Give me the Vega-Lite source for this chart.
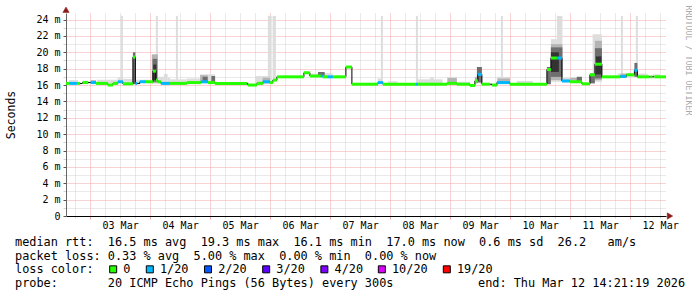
{
"$schema": "https://vega.github.io/schema/vega-lite/v6.json",
"padding": {"left": 5, "top": 5, "right": 0, "bottom": 0},
"background": "#ffffff",
"config": {"view": {"stroke": null}, "font": "DejaVu Sans Mono",
  "axis": {"labelFont": "DejaVu Sans Mono", "titleFont": "DejaVu Sans Mono", "labelFontSize": 10, "labelColor": "#000000", "titleColor": "#000000", "titleFontWeight": "normal", "labelOverlap": false}},
"datasets": {
"med": [
{"a":"2026-03-02T14:21","b":"2026-03-02T15:55","m":16.2,"l":"0"},
{"a":"2026-03-02T15:55","b":"2026-03-02T18:43","m":16.2,"l":"1/20"},
{"a":"2026-03-02T18:43","b":"2026-03-02T19:55","m":16.2,"l":"0"},
{"a":"2026-03-02T21:00","b":"2026-03-02T23:15","m":16.3,"l":"0"},
{"a":"2026-03-03T00:12","b":"2026-03-03T02:20","m":16.3,"l":"1/20"},
{"a":"2026-03-03T02:20","b":"2026-03-03T07:07","m":16.2,"l":"0"},
{"a":"2026-03-03T07:07","b":"2026-03-03T09:07","m":16.0,"l":"0"},
{"a":"2026-03-03T09:07","b":"2026-03-03T11:07","m":16.2,"l":"0"},
{"a":"2026-03-03T11:07","b":"2026-03-03T13:07","m":16.4,"l":"1/20"},
{"a":"2026-03-03T13:07","b":"2026-03-03T17:07","m":16.15,"l":"0"},
{"a":"2026-03-03T17:07","b":"2026-03-03T18:07","m":19.4,"l":"0"},
{"a":"2026-03-03T18:07","b":"2026-03-03T18:50","m":16.2,"l":"1/20"},
{"a":"2026-03-03T19:55","b":"2026-03-03T22:20","m":16.4,"l":"1/20"},
{"a":"2026-03-03T22:20","b":"2026-03-04T01:07","m":16.4,"l":"0"},
{"a":"2026-03-04T01:07","b":"2026-03-04T02:19","m":17.7,"l":"0"},
{"a":"2026-03-04T02:19","b":"2026-03-04T03:07","m":16.6,"l":"0"},
{"a":"2026-03-04T03:07","b":"2026-03-04T04:19","m":16.4,"l":"0"},
{"a":"2026-03-04T04:19","b":"2026-03-04T07:55","m":16.2,"l":"1/20"},
{"a":"2026-03-04T07:55","b":"2026-03-04T14:43","m":16.2,"l":"0"},
{"a":"2026-03-04T14:43","b":"2026-03-04T20:19","m":16.3,"l":"0"},
{"a":"2026-03-04T20:19","b":"2026-03-04T23:07","m":16.4,"l":"1/20"},
{"a":"2026-03-04T23:07","b":"2026-03-05T01:55","m":16.3,"l":"0"},
{"a":"2026-03-05T01:55","b":"2026-03-05T14:43","m":16.2,"l":"0"},
{"a":"2026-03-05T15:07","b":"2026-03-05T18:43","m":16.0,"l":"0"},
{"a":"2026-03-05T18:43","b":"2026-03-05T21:07","m":16.2,"l":"0"},
{"a":"2026-03-05T21:07","b":"2026-03-05T23:55","m":16.4,"l":"1/20"},
{"a":"2026-03-05T23:55","b":"2026-03-06T01:07","m":16.3,"l":"0"},
{"a":"2026-03-06T01:07","b":"2026-03-06T02:43","m":16.6,"l":"0"},
{"a":"2026-03-06T02:43","b":"2026-03-06T13:31","m":17.0,"l":"0"},
{"a":"2026-03-06T13:31","b":"2026-03-06T15:55","m":17.5,"l":"0"},
{"a":"2026-03-06T15:55","b":"2026-03-06T20:19","m":17.1,"l":"0"},
{"a":"2026-03-06T20:19","b":"2026-03-06T21:07","m":17.1,"l":"1/20"},
{"a":"2026-03-06T21:07","b":"2026-03-06T23:07","m":17.0,"l":"0"},
{"a":"2026-03-06T23:07","b":"2026-03-07T01:07","m":17.0,"l":"1/20"},
{"a":"2026-03-07T01:07","b":"2026-03-07T06:19","m":17.0,"l":"0"},
{"a":"2026-03-07T06:19","b":"2026-03-07T08:43","m":18.2,"l":"0"},
{"a":"2026-03-07T08:43","b":"2026-03-07T19:07","m":16.1,"l":"0"},
{"a":"2026-03-07T19:07","b":"2026-03-07T21:07","m":16.3,"l":"1/20"},
{"a":"2026-03-07T21:07","b":"2026-03-08T10:19","m":16.1,"l":"0"},
{"a":"2026-03-08T10:19","b":"2026-03-08T11:07","m":16.1,"l":"1/20"},
{"a":"2026-03-08T11:07","b":"2026-03-08T22:43","m":16.1,"l":"0"},
{"a":"2026-03-08T22:43","b":"2026-03-09T02:43","m":16.2,"l":"0"},
{"a":"2026-03-09T02:43","b":"2026-03-09T07:55","m":16.1,"l":"0"},
{"a":"2026-03-09T07:55","b":"2026-03-09T09:55","m":15.95,"l":"0"},
{"a":"2026-03-09T09:55","b":"2026-03-09T11:07","m":16.5,"l":"0"},
{"a":"2026-03-09T11:07","b":"2026-03-09T12:43","m":17.3,"l":"1/20"},
{"a":"2026-03-09T12:43","b":"2026-03-09T15:55","m":16.1,"l":"0"},
{"a":"2026-03-09T16:43","b":"2026-03-09T18:43","m":16.0,"l":"0"},
{"a":"2026-03-09T18:43","b":"2026-03-09T23:55","m":16.3,"l":"1/20"},
{"a":"2026-03-09T23:55","b":"2026-03-10T14:43","m":16.1,"l":"0"},
{"a":"2026-03-10T14:43","b":"2026-03-10T16:19","m":17.9,"l":"0"},
{"a":"2026-03-10T16:19","b":"2026-03-10T18:43","m":19.3,"l":"0"},
{"a":"2026-03-10T18:43","b":"2026-03-10T20:43","m":19.3,"l":"1/20"},
{"a":"2026-03-10T20:43","b":"2026-03-10T23:55","m":16.5,"l":"1/20"},
{"a":"2026-03-10T23:55","b":"2026-03-11T04:43","m":16.4,"l":"0"},
{"a":"2026-03-11T04:43","b":"2026-03-11T07:55","m":16.15,"l":"0"},
{"a":"2026-03-11T07:55","b":"2026-03-11T09:55","m":17.25,"l":"0"},
{"a":"2026-03-11T09:55","b":"2026-03-11T12:43","m":18.55,"l":"0"},
{"a":"2026-03-11T12:43","b":"2026-03-11T20:07","m":17.0,"l":"0"},
{"a":"2026-03-11T20:07","b":"2026-03-11T22:31","m":17.05,"l":"1/20"},
{"a":"2026-03-11T22:31","b":"2026-03-12T01:43","m":17.25,"l":"0"},
{"a":"2026-03-12T01:43","b":"2026-03-12T02:55","m":17.8,"l":"1/20"},
{"a":"2026-03-12T02:55","b":"2026-03-12T07:43","m":17.0,"l":"0"},
{"a":"2026-03-12T08:07","b":"2026-03-12T08:55","m":17.0,"l":"0"},
{"a":"2026-03-12T09:43","b":"2026-03-12T14:21","m":17.0,"l":"0"}
],
"smk": [
{"a":"2026-03-02T15:30","b":"2026-03-02T19:10","lo":16.2,"hi":16.6,"s":1},
{"a":"2026-03-02T21:00","b":"2026-03-02T23:15","lo":16.2,"hi":16.55,"s":1},
{"a":"2026-03-03T02:40","b":"2026-03-03T11:00","lo":16.2,"hi":16.65,"s":1},
{"a":"2026-03-03T11:00","b":"2026-03-03T13:10","lo":16.3,"hi":16.9,"s":1},
{"a":"2026-03-03T13:10","b":"2026-03-03T17:00","lo":16.15,"hi":16.75,"s":1},
{"a":"2026-03-03T18:00","b":"2026-03-04T00:00","lo":16.3,"hi":16.65,"s":1},
{"a":"2026-03-04T03:00","b":"2026-03-04T05:30","lo":16.2,"hi":17.0,"s":1},
{"a":"2026-03-04T05:30","b":"2026-03-04T07:00","lo":16.2,"hi":17.35,"s":1},
{"a":"2026-03-04T07:00","b":"2026-03-04T08:00","lo":16.2,"hi":16.9,"s":1},
{"a":"2026-03-04T08:00","b":"2026-03-04T14:40","lo":16.2,"hi":16.7,"s":1},
{"a":"2026-03-04T14:40","b":"2026-03-04T20:00","lo":16.2,"hi":16.8,"s":1},
{"a":"2026-03-04T20:00","b":"2026-03-05T02:00","lo":16.2,"hi":17.3,"s":1},
{"a":"2026-03-05T18:00","b":"2026-03-06T00:30","lo":16.2,"hi":17.1,"s":1},
{"a":"2026-03-06T16:00","b":"2026-03-06T20:00","lo":17.1,"hi":17.4,"s":1},
{"a":"2026-03-06T21:00","b":"2026-03-07T01:00","lo":17.0,"hi":17.45,"s":1},
{"a":"2026-03-07T19:00","b":"2026-03-07T21:00","lo":16.2,"hi":16.8,"s":1},
{"a":"2026-03-07T23:00","b":"2026-03-08T03:00","lo":16.1,"hi":16.45,"s":1},
{"a":"2026-03-08T10:40","b":"2026-03-08T21:00","lo":16.1,"hi":16.7,"s":1},
{"a":"2026-03-08T16:00","b":"2026-03-08T17:30","lo":16.1,"hi":16.95,"s":1},
{"a":"2026-03-08T22:45","b":"2026-03-09T02:45","lo":16.2,"hi":17.0,"s":1},
{"a":"2026-03-09T03:00","b":"2026-03-09T08:00","lo":16.1,"hi":16.4,"s":1},
{"a":"2026-03-09T18:40","b":"2026-03-10T00:00","lo":16.2,"hi":17.0,"s":1},
{"a":"2026-03-10T02:40","b":"2026-03-10T09:00","lo":16.1,"hi":16.5,"s":1},
{"a":"2026-03-10T16:19","b":"2026-03-10T18:43","lo":16.4,"hi":21.6,"s":1},
{"a":"2026-03-10T18:43","b":"2026-03-10T20:55","lo":16.4,"hi":24.45,"s":1},
{"a":"2026-03-10T21:00","b":"2026-03-10T23:55","lo":16.3,"hi":16.9,"s":1},
{"a":"2026-03-11T09:00","b":"2026-03-11T12:43","lo":16.4,"hi":22.2,"s":1},
{"a":"2026-03-11T19:00","b":"2026-03-12T07:00","lo":17.0,"hi":17.4,"s":1},
{"a":"2026-03-12T09:00","b":"2026-03-12T12:00","lo":17.0,"hi":17.3,"s":1},
{"a":"2026-03-03T12:19","b":"2026-03-03T13:07","lo":16.2,"hi":24.45,"s":1},
{"a":"2026-03-04T02:19","b":"2026-03-04T03:07","lo":16.4,"hi":24.45,"s":1},
{"a":"2026-03-04T10:19","b":"2026-03-04T11:07","lo":16.2,"hi":24.45,"s":1},
{"a":"2026-03-05T23:07","b":"2026-03-06T00:36","lo":16.3,"hi":24.45,"s":1},
{"a":"2026-03-06T01:00","b":"2026-03-06T02:19","lo":16.5,"hi":24.45,"s":1},
{"a":"2026-03-07T20:19","b":"2026-03-07T21:07","lo":16.2,"hi":24.45,"s":1},
{"a":"2026-03-08T10:19","b":"2026-03-08T11:07","lo":16.1,"hi":24.45,"s":1},
{"a":"2026-03-09T20:19","b":"2026-03-09T21:07","lo":16.3,"hi":24.45,"s":1},
{"a":"2026-03-11T20:19","b":"2026-03-11T21:07","lo":17.0,"hi":24.45,"s":1},
{"a":"2026-03-12T02:19","b":"2026-03-12T03:07","lo":17.0,"hi":24.45,"s":1},
{"a":"2026-03-03T00:12","b":"2026-03-03T02:20","lo":16.2,"hi":16.6,"s":2},
{"a":"2026-03-04T00:40","b":"2026-03-04T03:07","lo":16.2,"hi":19.75,"s":2},
{"a":"2026-03-04T20:00","b":"2026-03-04T23:07","lo":16.3,"hi":17.2,"s":2},
{"a":"2026-03-05T21:00","b":"2026-03-06T00:00","lo":16.2,"hi":16.9,"s":2},
{"a":"2026-03-08T23:00","b":"2026-03-09T02:40","lo":16.2,"hi":16.85,"s":2},
{"a":"2026-03-09T09:55","b":"2026-03-09T11:07","lo":16.2,"hi":17.0,"s":2},
{"a":"2026-03-09T19:00","b":"2026-03-09T23:55","lo":16.2,"hi":16.8,"s":2},
{"a":"2026-03-10T16:19","b":"2026-03-10T20:55","lo":16.6,"hi":21.0,"s":2},
{"a":"2026-03-11T00:00","b":"2026-03-11T04:43","lo":16.3,"hi":16.9,"s":2},
{"a":"2026-03-11T09:55","b":"2026-03-11T12:43","lo":16.6,"hi":21.4,"s":2},
{"a":"2026-03-11T20:07","b":"2026-03-11T22:31","lo":16.9,"hi":17.4,"s":2},
{"a":"2026-03-03T17:07","b":"2026-03-03T18:07","lo":16.1,"hi":20.0,"s":3},
{"a":"2026-03-04T01:00","b":"2026-03-04T02:50","lo":16.4,"hi":19.2,"s":3},
{"a":"2026-03-04T21:00","b":"2026-03-04T23:00","lo":16.4,"hi":17.0,"s":3},
{"a":"2026-03-05T00:30","b":"2026-03-05T02:00","lo":16.2,"hi":17.1,"s":3},
{"a":"2026-03-06T19:10","b":"2026-03-06T21:50","lo":17.0,"hi":17.6,"s":3},
{"a":"2026-03-09T10:43","b":"2026-03-09T12:43","lo":16.3,"hi":18.2,"s":3},
{"a":"2026-03-10T14:43","b":"2026-03-10T16:19","lo":16.1,"hi":18.2,"s":3},
{"a":"2026-03-10T16:19","b":"2026-03-10T20:55","lo":17.0,"hi":20.6,"s":3},
{"a":"2026-03-11T02:40","b":"2026-03-11T04:43","lo":16.3,"hi":17.0,"s":3},
{"a":"2026-03-11T07:55","b":"2026-03-11T09:55","lo":16.2,"hi":17.4,"s":3},
{"a":"2026-03-11T09:55","b":"2026-03-11T12:43","lo":16.8,"hi":20.5,"s":3},
{"a":"2026-03-12T01:43","b":"2026-03-12T02:55","lo":17.0,"hi":18.7,"s":3},
{"a":"2026-03-04T01:15","b":"2026-03-04T02:30","lo":16.6,"hi":18.5,"s":4},
{"a":"2026-03-10T16:19","b":"2026-03-10T19:30","lo":17.6,"hi":20.0,"s":4},
{"a":"2026-03-11T10:20","b":"2026-03-11T12:30","lo":17.3,"hi":19.5,"s":4}
],
"arw": [
{"t":"2026-03-02T14:21:19","v":25.2,"k":"up"},
{"t":"2026-03-12T15:57:00","v":0,"k":"right"}
],
"leg": [
{"r":0,"c":0,"t":"median\u00a0rtt:"},
{"r":0,"c":13,"t":"16.5\u00a0ms\u00a0avg"},
{"r":0,"c":26,"t":"19.3\u00a0ms\u00a0max"},
{"r":0,"c":39,"t":"16.1\u00a0ms\u00a0min"},
{"r":0,"c":52,"t":"17.0\u00a0ms\u00a0now"},
{"r":0,"c":65,"t":"0.6\u00a0ms\u00a0sd"},
{"r":0,"c":76,"t":"26.2"},
{"r":0,"c":83,"t":"am/s"},
{"r":1,"c":0,"t":"packet\u00a0loss:"},
{"r":1,"c":13,"t":"0.33\u00a0%\u00a0avg"},
{"r":1,"c":25,"t":"5.00\u00a0%\u00a0max"},
{"r":1,"c":37,"t":"0.00\u00a0%\u00a0min"},
{"r":1,"c":49,"t":"0.00\u00a0%\u00a0now"},
{"r":2,"c":0,"t":"loss\u00a0color:"},
{"r":2,"c":15.17,"t":"0"},
{"r":2,"c":20.3,"t":"1/20"},
{"r":2,"c":28.45,"t":"2/20"},
{"r":2,"c":36.6,"t":"3/20"},
{"r":2,"c":44.75,"t":"4/20"},
{"r":2,"c":52.8,"t":"10/20"},
{"r":2,"c":61.9,"t":"19/20"},
{"r":3,"c":0,"t":"probe:"},
{"r":3,"c":13,"t":"20\u00a0ICMP\u00a0Echo\u00a0Pings\u00a0(56\u00a0Bytes)\u00a0every\u00a0300s"},
{"r":3,"c":64.85,"t":"end:\u00a0Thu\u00a0Mar\u00a012\u00a014:21:19\u00a02026"}
],
"sq": [
{"r":2,"c":13.75,"l":"0"},
{"r":2,"c":18.88,"l":"1/20"},
{"r":2,"c":27.03,"l":"2/20"},
{"r":2,"c":35.18,"l":"3/20"},
{"r":2,"c":43.33,"l":"4/20"},
{"r":2,"c":51.38,"l":"10/20"},
{"r":2,"c":60.48,"l":"19/20"}
]
},
"vconcat": [
{
"width": 600, "height": 203,
"layer": [
{"data": {"name": "med"}, "mark": {"type": "point", "opacity": 0},
 "encoding": {
  "x": {"field": "a", "type": "temporal",
   "scale": {"domain": ["2026-03-02T14:21:19", "2026-03-12T14:21:19"], "nice": false},
   "axis": {"orient": "bottom", "values": ["2026-03-02T18:00","2026-03-03T06:00","2026-03-03T12:00","2026-03-03T18:00","2026-03-04T06:00","2026-03-04T12:00","2026-03-04T18:00","2026-03-05T06:00","2026-03-05T12:00","2026-03-05T18:00","2026-03-06T06:00","2026-03-06T12:00","2026-03-06T18:00","2026-03-07T06:00","2026-03-07T12:00","2026-03-07T18:00","2026-03-08T06:00","2026-03-08T12:00","2026-03-08T18:00","2026-03-09T06:00","2026-03-09T12:00","2026-03-09T18:00","2026-03-10T06:00","2026-03-10T12:00","2026-03-10T18:00","2026-03-11T06:00","2026-03-11T12:00","2026-03-11T18:00","2026-03-12T06:00","2026-03-12T12:00"],
    "grid": true, "gridColor": "#d2d2d2", "gridDash": [1,1], "labels": false, "ticks": true, "tickColor": "#d2d2d2", "tickSize": 2, "domain": false, "title": null}},
  "y": {"field": "m", "type": "quantitative", "scale": {"domain": [0, 24.8], "nice": false, "zero": false},
   "axis": {"orient": "left", "values": [1,3,5,7,9,11,13,15,17,19,21,23], "grid": true, "gridColor": "#d2d2d2", "gridDash": [1,1], "labels": false, "ticks": true, "tickColor": "#d2d2d2", "tickSize": 3, "domain": false, "title": null}}
 }},
{"data": {"name": "med"}, "mark": {"type": "point", "opacity": 0},
 "encoding": {
  "x": {"field": "a", "type": "temporal",
   "axis": {"orient": "bottom", "values": ["2026-03-03T00:00","2026-03-04T00:00","2026-03-05T00:00","2026-03-06T00:00","2026-03-07T00:00","2026-03-08T00:00","2026-03-09T00:00","2026-03-10T00:00","2026-03-11T00:00","2026-03-12T00:00"],
    "grid": true, "gridColor": "#f2a6a6", "gridDash": [1,1], "labels": false, "ticks": true, "tickColor": "#f2a6a6", "tickSize": 3, "domain": false, "title": null}},
  "y": {"field": "m", "type": "quantitative",
   "axis": {"orient": "left", "values": [2,4,6,8,10,12,14,16,18,20,22,24], "grid": true, "gridColor": "#f2a6a6", "gridDash": [1,1], "labels": false, "ticks": false, "domain": false, "title": null}}
 }},
{"data": {"name": "smk"}, "mark": {"type": "rect"},
 "encoding": {
  "x": {"field": "a", "type": "temporal", "axis": null},
  "x2": {"field": "b"},
  "y": {"field": "lo", "type": "quantitative",
   "axis": {"orient": "right", "labels": false, "ticks": false, "domain": false, "grid": false, "title": "RRDTOOL / TOBI OETIKER", "titleFontSize": 8.3, "titleColor": "#aaaaaa", "titleAngle": 90, "titleAlign": "left", "titleY": -8, "titlePadding": 17}},
  "y2": {"field": "hi"},
  "fill": {"field": "s", "type": "ordinal", "scale": {"domain": [1,2,3,4], "range": ["#dddddd", "#b4b4b4", "#6e6e6e", "#333333"]}, "legend": null}
 }},
{"data": {"name": "med"}, "mark": {"type": "line", "interpolate": "step-after", "color": "#000000", "strokeWidth": 1},
 "encoding": {
  "x": {"field": "a", "type": "temporal", "axis": null},
  "y": {"field": "m", "type": "quantitative", "axis": null}
 }},
{"data": {"name": "med"}, "mark": {"type": "rule", "strokeWidth": 3, "strokeCap": "butt"},
 "encoding": {
  "x": {"field": "a", "type": "temporal", "axis": null},
  "x2": {"field": "b"},
  "y": {"field": "m", "type": "quantitative", "axis": null},
  "stroke": {"field": "l", "type": "nominal", "scale": {"domain": ["0","1/20","2/20","3/20","4/20","10/20","19/20"], "range": ["#26ff00","#00b8ff","#0059ff","#5e00ff","#7e00ff","#dd00ff","#ff0000"]}, "legend": null}
 }},
{"data": {"name": "med"}, "mark": {"type": "point", "opacity": 0},
 "encoding": {
  "x": {"field": "a", "type": "temporal",
   "axis": {"orient": "bottom", "values": ["2026-03-03T12:00","2026-03-04T12:00","2026-03-05T12:00","2026-03-06T12:00","2026-03-07T12:00","2026-03-08T12:00","2026-03-09T12:00","2026-03-10T12:00","2026-03-11T12:00","2026-03-12T12:00"],
    "format": "%d %b", "grid": false, "ticks": false, "domain": true, "domainColor": "#000000", "labelPadding": 4, "title": null}},
  "y": {"field": "m", "type": "quantitative",
   "axis": {"orient": "left", "values": [0,2,4,6,8,10,12,14,16,18,20,22,24], "labelExpr": "datum.value == 0 ? '0' : datum.value + ' m'", "grid": false, "ticks": true, "tickColor": "#555555", "tickSize": 3, "labelPadding": 3, "domain": true, "domainColor": "#666666", "title": "Seconds", "titleFontSize": 11.5, "titlePadding": 19}}
 }},
{"data": {"name": "arw"}, "transform": [{"filter": "datum.k == 'up'"}],
 "mark": {"type": "point", "shape": "triangle-up", "fill": "#8b1c1c", "stroke": "#8b1c1c", "strokeWidth": 0.5, "filled": true, "size": 40, "opacity": 1, "fillOpacity": 1, "clip": false},
 "encoding": {
  "x": {"field": "t", "type": "temporal", "axis": null},
  "y": {"field": "v", "type": "quantitative", "axis": null}
 }},
{"data": {"name": "arw"}, "transform": [{"filter": "datum.k == 'right'"}],
 "mark": {"type": "point", "shape": "triangle-right", "fill": "#8b1c1c", "stroke": "#8b1c1c", "strokeWidth": 0.5, "filled": true, "size": 40, "opacity": 1, "fillOpacity": 1, "clip": false},
 "encoding": {
  "x": {"field": "t", "type": "temporal", "axis": null},
  "y": {"field": "v", "type": "quantitative", "axis": null}
 }}
],
"resolve": {"axis": {"x": "independent", "y": "independent"}}
},
{
"width": 600, "height": 41,
"layer": [
{"data": {"name": "leg"}, "mark": {"type": "text", "align": "left", "baseline": "middle", "font": "DejaVu Sans Mono", "fontSize": 11.86, "color": "#000000"},
 "encoding": {
  "x": {"field": "c", "type": "quantitative", "scale": {"domain": [7.143, 91.18], "nice": false, "zero": false}, "axis": null},
  "y": {"field": "r", "type": "quantitative", "scale": {"domain": [0, 3], "nice": false, "zero": false, "reverse": true}, "axis": null},
  "text": {"field": "t"}
 }},
{"data": {"name": "sq"}, "mark": {"type": "square", "size": 49, "stroke": "#000000", "strokeWidth": 1, "opacity": 1},
 "encoding": {
  "x": {"field": "c", "type": "quantitative", "axis": null},
  "y": {"field": "r", "type": "quantitative", "axis": null},
  "fill": {"field": "l", "type": "nominal", "scale": {"domain": ["0","1/20","2/20","3/20","4/20","10/20","19/20"], "range": ["#26ff00","#00b8ff","#0059ff","#5e00ff","#7e00ff","#dd00ff","#ff0000"]}, "legend": null}
 }}
]
}
],
"spacing": 7,
"resolve": {"scale": {"x": "independent", "y": "independent", "fill": "independent", "stroke": "independent"}}
}
